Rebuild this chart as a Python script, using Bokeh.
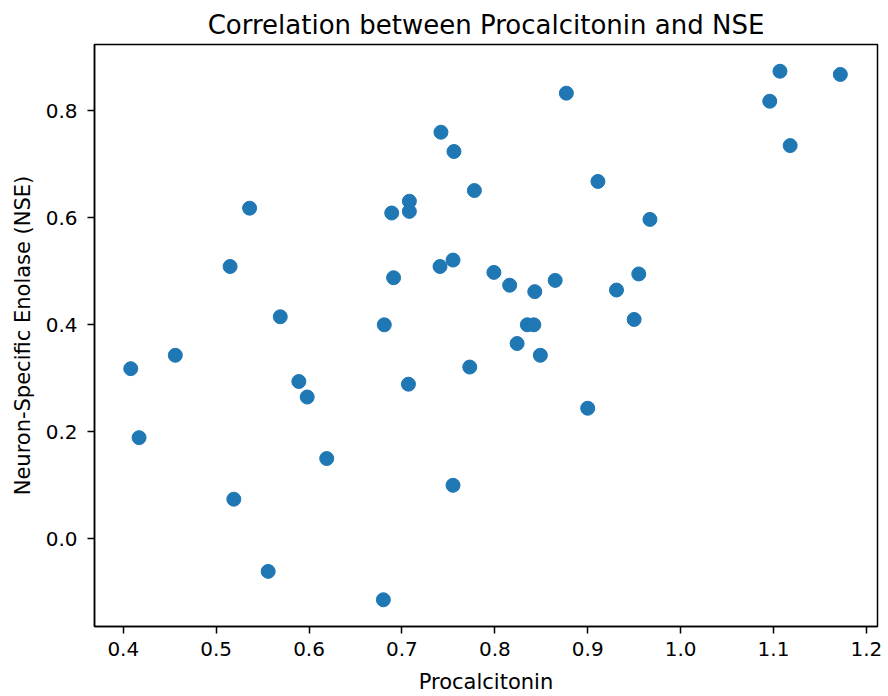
from bokeh.plotting import figure
from bokeh.models import Range1d, FixedTicker, PrintfTickFormatter, ColumnDataSource
from bokeh.embed import file_html
from bokeh.resources import INLINE

# --- data ---
procalcitonin = [0.742, 0.756, 0.778, 0.708, 0.689, 0.708, 0.536, 0.515, 0.741, 0.755,
                 0.691, 0.569, 0.681, 0.456, 0.408, 0.589, 0.598, 0.707, 0.773, 0.417,
                 0.619, 0.755, 0.519, 0.556, 0.680, 1.107, 1.172, 1.096, 1.118, 0.877,
                 0.911, 0.967, 0.799, 0.816, 0.843, 0.865, 0.955, 0.931, 0.950, 0.835,
                 0.842, 0.824, 0.849, 0.900]
nse = [0.760, 0.724, 0.651, 0.631, 0.609, 0.612, 0.618, 0.509, 0.509, 0.521,
       0.488, 0.415, 0.400, 0.343, 0.318, 0.294, 0.265, 0.289, 0.321, 0.189,
       0.150, 0.100, 0.074, -0.061, -0.114, 0.874, 0.868, 0.818, 0.735, 0.833,
       0.668, 0.597, 0.498, 0.474, 0.462, 0.483, 0.495, 0.465, 0.410, 0.400,
       0.400, 0.365, 0.343, 0.244]
x_ticks = [0.4, 0.5, 0.6, 0.7, 0.8, 0.9, 1.0, 1.1, 1.2]
y_ticks = [0.0, 0.2, 0.4, 0.6, 0.8]

FONT = "DejaVu Sans"
COLOR = "#1f77b4"

src = ColumnDataSource(dict(x=procalcitonin, y=nse))

p = figure(width=886, height=696, output_backend="svg", toolbar_location=None,
           x_range=Range1d(0.369, 1.212), y_range=Range1d(-0.164, 0.924),
           title="Correlation between Procalcitonin and NSE",
           min_border_left=94, min_border_right=9, min_border_top=44, min_border_bottom=69)

p.scatter("x", "y", source=src, size=14, fill_color=COLOR, line_color=COLOR, line_width=1)

p.title.text_font = FONT
p.title.text_font_size = "26px"
p.title.text_font_style = "normal"
p.title.align = "center"
p.title.text_color = "black"
p.title.standoff = 10

p.xaxis.axis_label = "Procalcitonin"
p.yaxis.axis_label = "Neuron-Specific Enolase (NSE)"
p.xaxis.ticker = FixedTicker(ticks=x_ticks)
p.yaxis.ticker = FixedTicker(ticks=y_ticks)
for ax in (p.xaxis, p.yaxis):
    ax.formatter = PrintfTickFormatter(format="%.1f")
    ax.axis_label_text_font = FONT
    ax.axis_label_text_font_size = "21px"
    ax.axis_label_text_font_style = "normal"
    ax.axis_label_text_color = "black"
    ax.major_label_text_font = FONT
    ax.major_label_text_font_size = "20px"
    ax.major_label_text_color = "black"
    ax.major_tick_in = 0
    ax.major_tick_out = 7
    ax.major_tick_line_width = 1.5
    ax.major_tick_line_color = "black"
    ax.minor_tick_line_color = None
    ax.axis_line_width = 1.5
    ax.axis_line_color = "black"
p.xaxis.major_label_standoff = 8
p.xaxis.axis_label_standoff = 11
p.yaxis.major_label_standoff = 10
p.yaxis.axis_label_standoff = 8

p.xgrid.grid_line_color = None
p.ygrid.grid_line_color = None
p.outline_line_color = "black"
p.outline_line_width = 1.5
p.outline_line_alpha = 1.0
p.background_fill_color = "white"
p.border_fill_color = "white"

open("out.html", "w").write(file_html(p, INLINE))
